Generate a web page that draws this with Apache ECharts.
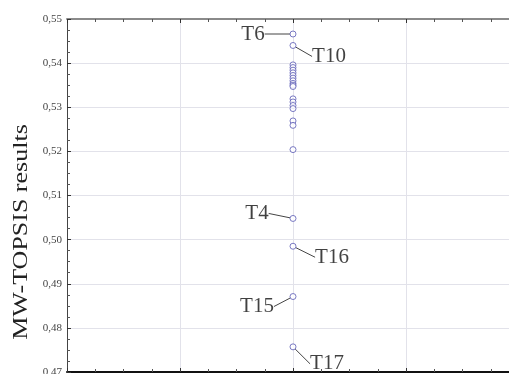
<!DOCTYPE html>
<html>
<head>
<meta charset="utf-8">
<script src="https://cdn.jsdelivr.net/npm/echarts@6/dist/echarts.min.js"></script>
<style>html,body{margin:0;padding:0;background:#fff}#c{width:509px;height:374px}</style>
</head>
<body>
<div id="c"></div>
<script>
// Data
const xPosition = 2;
const clusterValues = [0.5396, 0.5390, 0.5384, 0.5378, 0.5372, 0.5366, 0.5360, 0.5354, 0.5350, 0.5347,
  0.5319, 0.5312, 0.5304, 0.5297, 0.5269, 0.5259, 0.5204];
const labeledNames = ['T6', 'T10', 'T4', 'T16', 'T15', 'T17'];
const labeledValues = [0.5466, 0.5440, 0.5048, 0.4985, 0.4871, 0.4757];
const yTicks = { min: 0.47, max: 0.55, step: 0.01 };
const yTitle = 'MW-TOPSIS results';

// label offsets (layout only)
const labelOffsets = [[-40, 0], [36, 11], [-36, -5], [39, 11], [-36, 10], [34, 17]];

const chart = echarts.init(document.getElementById('c'));
const serif = '"Liberation Serif", "DejaVu Serif", serif';
const pointStyle = { color: '#ffffff', borderColor: '#5a5ab4', borderWidth: 1 };

const xBase = {
  type: 'value', min: 0, max: 4, interval: 1,
  axisLabel: { show: false },
  axisTick: { show: true, inside: true, length: 4, lineStyle: { color: '#333' } },
  minorTick: { show: true, splitNumber: 4, length: 3, lineStyle: { color: '#555' } },
};

chart.setOption({
  animation: false,
  grid: { left: 67, top: 19, width: 452, height: 353, outerBoundsMode: 'none', containLabel: false },
  xAxis: [
    Object.assign({}, xBase, {
      position: 'bottom',
      axisLine: { show: true, lineStyle: { color: '#111', width: 2 } },
      splitLine: { show: true, lineStyle: { color: '#e2e2ea', width: 1 } },
    }),
    Object.assign({}, xBase, {
      position: 'top',
      axisLine: { show: true, lineStyle: { color: '#8a8a8a', width: 2 } },
      splitLine: { show: false },
    }),
  ],
  yAxis: {
    type: 'value', min: yTicks.min, max: yTicks.max, interval: yTicks.step,
    axisLine: { show: true, lineStyle: { color: '#444', width: 1 } },
    axisTick: { show: true, inside: true, length: 4, lineStyle: { color: '#333' } },
    minorTick: { show: true, splitNumber: 4, length: 3, lineStyle: { color: '#555' } },
    splitLine: { show: true, lineStyle: { color: '#e2e2ea', width: 1 } },
    axisLabel: {
      fontFamily: serif, fontSize: 11, color: '#444', margin: 5,
      formatter: v => v.toFixed(2).replace('.', ',')
    },
  },
  graphic: [{
    type: 'text', rotation: Math.PI / 2,
    x: 22, y: 232, scaleX: 1.3,
    style: { text: yTitle, font: '20px "Liberation Serif", serif', fill: '#222', textAlign: 'center', textVerticalAlign: 'middle' }
  }],
  series: [
    {
      type: 'scatter', symbol: 'circle', symbolSize: 6,
      itemStyle: pointStyle,
      data: clusterValues.map(v => [xPosition, v]),
      z: 3
    },
    {
      type: 'scatter', symbol: 'circle', symbolSize: 6,
      itemStyle: pointStyle,
      data: labeledValues.map((v, i) => ({ name: labeledNames[i], value: [xPosition, v] })),
      label: {
        show: true, position: 'inside', formatter: '{b}',
        fontFamily: serif, fontSize: 21, color: '#111'
      },
      labelLine: { show: true, lineStyle: { color: '#444', width: 1 } },
      labelLayout: p => ({ dx: labelOffsets[p.dataIndex][0], dy: labelOffsets[p.dataIndex][1] }),
      z: 4
    }
  ]
});
</script>
</body>
</html>
